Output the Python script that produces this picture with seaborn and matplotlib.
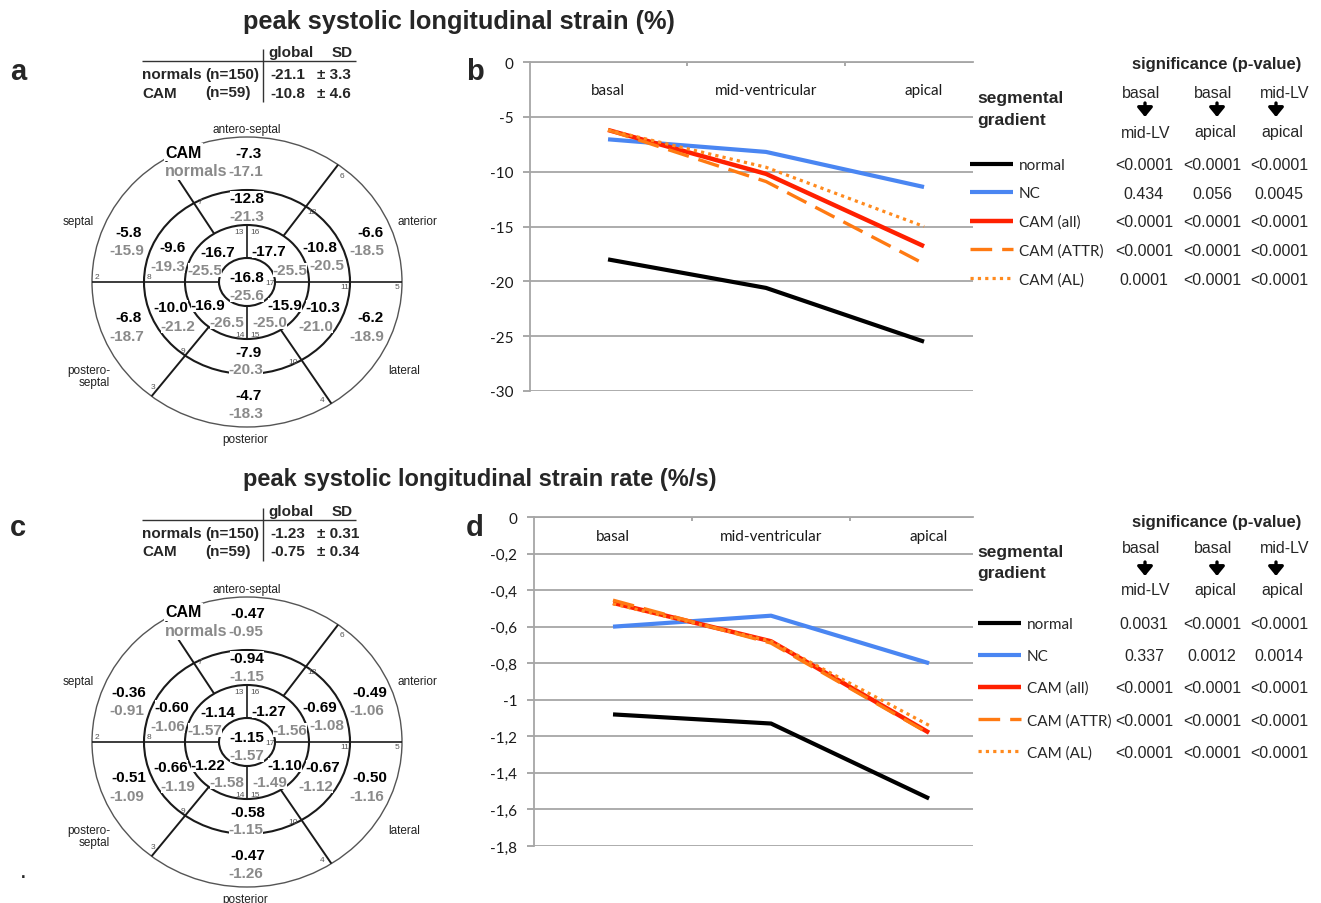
import numpy as np
import pandas as pd
import matplotlib
matplotlib.use("Agg")
import matplotlib.pyplot as plt
from matplotlib.patches import Ellipse
import seaborn as sns

# ---------------- data ----------------
levels = ["basal", "mid-ventricular", "apical"]
groups = ["normal", "NC", "CAM (all)", "CAM (ATTR)", "CAM (AL)"]

strain_normal = [-18.0, -20.6, -25.5]
strain_nc = [-7.05, -8.2, -11.4]
strain_cam_all = [-6.2, -10.2, -16.8]
strain_cam_attr = [-6.2, -10.9, -18.4]
strain_cam_al = [-6.2, -9.6, -15.0]

rate_normal = [-1.08, -1.13, -1.54]
rate_nc = [-0.60, -0.54, -0.80]
rate_cam_all = [-0.47, -0.68, -1.18]
rate_cam_attr = [-0.455, -0.69, -1.185]
rate_cam_al = [-0.475, -0.68, -1.14]

strain_yticks = [0, -5, -10, -15, -20, -25, -30]
strain_yticklabels = ["0", "-5", "-10", "-15", "-20", "-25", "-30"]
rate_yticks = [0, -0.2, -0.4, -0.6, -0.8, -1.0, -1.2, -1.4, -1.6, -1.8]
rate_yticklabels = ["0", "-0,2", "-0,4", "-0,6", "-0,8", "-1", "-1,2", "-1,4", "-1,6", "-1,8"]

# 17-segment bullseye values (AHA order 1..17)
seg_numbers = list(range(1, 18))
strain_cam_seg = [-7.3, -5.8, -6.8, -4.7, -6.2, -6.6, -12.8, -9.6, -10.0, -7.9, -10.3, -10.8,
                  -16.7, -16.9, -15.9, -17.7, -16.8]
strain_norm_seg = [-17.1, -15.9, -18.7, -18.3, -18.9, -18.5, -21.3, -19.3, -21.2, -20.3, -21.0, -20.5,
                   -25.5, -26.5, -25.0, -25.5, -25.6]
rate_cam_seg = [-0.47, -0.36, -0.51, -0.47, -0.50, -0.49, -0.94, -0.60, -0.66, -0.58, -0.67, -0.69,
                -1.14, -1.22, -1.10, -1.27, -1.15]
rate_norm_seg = [-0.95, -0.91, -1.09, -1.26, -1.16, -1.06, -1.15, -1.06, -1.19, -1.15, -1.12, -1.08,
                 -1.57, -1.58, -1.49, -1.56, -1.57]

region_names = ["antero-septal", "septal", "anterior", "postero-\nseptal", "lateral", "posterior"]

table_groups = ["normals", "CAM"]
table_n = ["(n=150)", "(n=59)"]
strain_global_mean = ["-21.1", "-10.8"]
strain_global_sd = ["± 3.3", "± 4.6"]
rate_global_mean = ["-1.23", "-0.75"]
rate_global_sd = ["± 0.31", "± 0.34"]

pv_head_top = ["basal", "basal", "mid-LV"]
pv_head_bottom = ["mid-LV", "apical", "apical"]
strain_pvals = [["<0.0001", "<0.0001", "<0.0001"],
                ["0.434", "0.056", "0.0045"],
                ["<0.0001", "<0.0001", "<0.0001"],
                ["<0.0001", "<0.0001", "<0.0001"],
                ["0.0001", "<0.0001", "<0.0001"]]
rate_pvals = [["0.0031", "<0.0001", "<0.0001"],
              ["0.337", "0.0012", "0.0014"],
              ["<0.0001", "<0.0001", "<0.0001"],
              ["<0.0001", "<0.0001", "<0.0001"],
              ["<0.0001", "<0.0001", "<0.0001"]]

title_strain = "peak systolic longitudinal strain (%)"
title_rate = "peak systolic longitudinal strain rate (%/s)"

# ---------------- style ----------------
sns.set_theme(style="white")
plt.rcParams["font.family"] = ["Liberation Sans", "DejaVu Sans"]
plt.rcParams["lines.solid_capstyle"] = "butt"
plt.rcParams["lines.dash_capstyle"] = "butt"

palette = {"normal": "#000000", "NC": "#4a86f2", "CAM (all)": "#ff2000",
           "CAM (ATTR)": "#ff7a12", "CAM (AL)": "#ff8a1e"}
dashes = {"normal": "", "NC": "", "CAM (all)": "", "CAM (ATTR)": (6.5, 3.0), "CAM (AL)": (1.0, 1.3)}
sizes = {"normal": 3.0, "NC": 3.0, "CAM (all)": 3.2, "CAM (ATTR)": 2.4, "CAM (AL)": 2.3}

W, H = 1321, 904
fig = plt.figure(figsize=(W / 100, H / 100), dpi=100)
fig.patch.set_facecolor("white")

ov = fig.add_axes([0, 0, 1, 1], zorder=0)
ov.set_xlim(0, W)
ov.set_ylim(H, 0)
ov.axis("off")

CALIBRI = ["Lato", "DejaVu Sans"]
GRAY = "#8a8a8a"


def px_axes(x0, y0, x1, y1):
    return fig.add_axes([x0 / W, 1 - y1 / H, (x1 - x0) / W, (y1 - y0) / H], zorder=2)


def T(x, y, s, **kw):
    kw.setdefault("va", "center")
    kw.setdefault("ha", "center")
    return ov.text(x, y, s, **kw)


# ---------------- titles & panel letters ----------------
T(243, 22, title_strain, ha="left", fontsize=18.3, fontweight="bold")
T(243, 480, title_rate, ha="left", fontsize=17.0, fontweight="bold")
for letter, (x, y) in zip("abcd", [(18, 72), (475, 72), (18, 528), (475, 528)]):
    T(x, y, letter, fontsize=21, fontweight="bold")
T(23, 874, ".", fontsize=12, fontweight="bold")

# ---------------- global tables ----------------
def draw_table(oy, means, sds):
    T(268, 53 + oy, "global", ha="left", fontsize=11, fontweight="bold")
    T(332, 53 + oy, "SD", ha="left", fontsize=11, fontweight="bold")
    ov.hlines(62 + oy, 142, 356, color="#333333", lw=1.0)
    ov.vlines(263, 50 + oy, 103 + oy, color="#333333", lw=1.0)
    for i, (g, n, m, s) in enumerate(zip(table_groups, table_n, means, sds)):
        y = 75 + oy + i * 18.5
        T(142, y, g, ha="left", fontsize=11, fontweight="bold")
        T(205, y, n, ha="left", fontsize=11, fontweight="bold")
        T(270, y, m, ha="left", fontsize=11, fontweight="bold")
        T(317, y, s, ha="left", fontsize=11, fontweight="bold")


draw_table(0, strain_global_mean, strain_global_sd)
draw_table(459, rate_global_mean, rate_global_sd)

# ---------------- bullseyes ----------------
rings = [(155, 145), (103, 92), (62, 57), (28, 24)]
diag_angles = [54, 122, 232, 303]
cam_off = [(1, -129), (-118, -50), (-118, 35), (1, 113), (123, 35), (123, -50),
           (0, -84), (-75, -35), (-76, 25), (1, 70), (76, 25), (73, -35),
           (-29, -30), (-39, 23), (38, 23), (22, -31), (0, -5)]
norm_off = [(-1, -111), (-120, -32), (-120, 54), (-1, 131), (120, 54), (120, -32),
            (0, -66), (-79, -16), (-69, 44), (-1, 87), (69, 44), (80, -17),
            (-42, -12), (-20, 40), (23, 40), (43, -12), (0, 13)]
num_off = {2: (-150, -5), 3: (-94, 105), 4: (75, 118), 5: (150, 5), 6: (95, -107),
           7: (-47, -80), 8: (-98, -5), 9: (-64, 69), 10: (46, 80), 11: (98, 5), 12: (65, -70),
           13: (-8, -50), 14: (-7, 53), 15: (8, 53), 16: (8, -50), 17: (23, 1)}
region_off = [(0, -153, "center"), (-169, -61, "center"), (170, -61, "center"),
              (-137, 94, "right"), (157, 88, "center"), (-2, 157, "center")]


def ell_pt(cx, cy, r, ang):
    a = np.deg2rad(ang)
    return cx + r[0] * np.cos(a), cy - r[1] * np.sin(a)


def draw_bullseye(cx, cy, cam, norm, fmt):
    for k, r in enumerate(rings):
        lw = 1.0 if k == 0 else 1.5
        ec = "#555555" if k == 0 else "#1a1a1a"
        ov.add_patch(Ellipse((cx, cy), 2 * r[0], 2 * r[1], fill=False, lw=lw, ec=ec, zorder=1))
    lc = "#1a1a1a"
    ov.plot([cx - rings[0][0], cx - rings[3][0]], [cy, cy], color=lc, lw=1.2, zorder=1)
    ov.plot([cx + rings[3][0], cx + rings[0][0]], [cy, cy], color=lc, lw=1.2, zorder=1)
    ov.plot([cx, cx], [cy - rings[2][1], cy - rings[3][1]], color=lc, lw=1.2, zorder=1)
    ov.plot([cx, cx], [cy + rings[3][1], cy + rings[2][1]], color=lc, lw=1.2, zorder=1)
    for ang in diag_angles:
        x0, y0 = ell_pt(cx, cy, rings[2], ang)
        x1, y1 = ell_pt(cx, cy, rings[0], ang)
        ov.plot([x0, x1], [y0, y1], color=lc, lw=1.4, zorder=1)
    box = dict(facecolor="white", edgecolor="none", pad=0.0)
    for i in range(17):
        dx, dy = cam_off[i]
        T(cx + dx, cy + dy, fmt.format(cam[i]), fontsize=11, fontweight="bold",
          color="black", bbox=box, zorder=3)
        dx, dy = norm_off[i]
        T(cx + dx, cy + dy, fmt.format(norm[i]), fontsize=11, fontweight="bold",
          color=GRAY, bbox=box, zorder=3)
    for n in seg_numbers:
        if n in num_off:
            dx, dy = num_off[n]
            T(cx + dx, cy + dy, str(n), fontsize=6, color="#555555", zorder=3)
    for name, (dx, dy, ha) in zip(region_names, region_off):
        T(cx + dx, cy + dy, name, fontsize=8.5, color="#222222", ha=ha,
          linespacing=1.0)
    big = dict(facecolor="white", edgecolor="none", pad=1.0)
    T(cx - 82, cy - 130, "CAM", ha="left", fontsize=11.5, fontweight="bold", color="black",
      bbox=big, zorder=3)
    T(cx - 82, cy - 111, "normals", ha="left", fontsize=11.5, fontweight="bold", color=GRAY,
      bbox=big, zorder=3)


draw_bullseye(247, 283, strain_cam_seg, strain_norm_seg, "{:.1f}")
draw_bullseye(247, 743, rate_cam_seg, rate_norm_seg, "{:.2f}")


# ---------------- line charts ----------------
def make_df(series):
    rows = []
    for g, vals in zip(groups, series):
        for i, v in enumerate(vals):
            rows.append((g, i, v))
    return pd.DataFrame(rows, columns=["group", "pos", "value"])


def line_panel(box, series, yticks, yticklabels, ylim, xlim, label_pad,
               leg_xy, leg_spacing, head_y, sig_y, seg_y):
    ax = px_axes(*box)
    ax.set_facecolor("none")
    df = make_df(series)
    sns.lineplot(data=df, x="pos", y="value", hue="group", style="group", size="group",
                 hue_order=groups, style_order=groups, size_order=groups,
                 palette=palette, dashes=dashes, sizes=sizes, legend=False,
                 ax=ax, sort=False, zorder=3)
    ax.set_xlim(*xlim)
    ax.set_ylim(*ylim)
    ax.set_yticks(yticks, yticklabels)
    ax.set_xticks(range(len(levels)), levels)
    ax.set_xticks([0.5, 1.5], minor=True)
    ax.xaxis.set_ticks_position("top")
    ax.tick_params(axis="x", which="major", length=0, pad=label_pad, labelsize=11,
                   labelcolor="#1a1a1a", labelfontfamily=CALIBRI)
    ax.tick_params(axis="x", which="minor", direction="in", length=3, width=1.2,
                   color="#9a9a9a", top=True, bottom=False)
    ax.tick_params(axis="y", length=5, width=1.2, color="#9a9a9a", pad=7, labelsize=11,
                   labelcolor="#1a1a1a", labelfontfamily=CALIBRI, left=True)
    ax.set_axisbelow(True)
    ax.grid(axis="y", color="#a6a6a6", lw=1.3)
    ax.grid(axis="x", visible=False)
    for sp in ["right", "bottom"]:
        ax.spines[sp].set_visible(False)
    for sp in ["left", "top"]:
        ax.spines[sp].set_visible(True)
        ax.spines[sp].set_color("#a6a6a6")
        ax.spines[sp].set_linewidth(1.3)
    ax.set_xlabel("")
    ax.set_ylabel("")

    # legend
    handles = ax.get_lines()[:len(groups)]
    leg = ax.legend(handles, groups, loc="upper left", bbox_to_anchor=leg_xy,
                    bbox_transform=ov.transData, frameon=False, borderpad=0,
                    borderaxespad=0, handlelength=2.8, handletextpad=0.4,
                    labelspacing=leg_spacing, prop={"family": CALIBRI, "size": 11})
    leg.set_zorder(5)

    # segmental gradient heading
    T(977, seg_y[0], "segmental", ha="left", fontsize=12.5, fontweight="bold")
    T(977, seg_y[1], "gradient", ha="left", fontsize=12.5, fontweight="bold")

    # significance table header
    T(1217, sig_y, "significance (p-value)", fontsize=12, fontweight="bold")
    top_x = [1141, 1213, 1285]
    arr_x = [1145, 1217, 1276]
    bot_x = [1146, 1215, 1282]
    for j in range(3):
        T(top_x[j], head_y[0], pv_head_top[j], fontsize=11.5)
        ov.annotate("", xy=(arr_x[j], head_y[1] + 7), xytext=(arr_x[j], head_y[1] - 7),
                    arrowprops=dict(arrowstyle="-|>,head_width=0.45,head_length=0.55",
                                    lw=2.4, color="black", mutation_scale=10,
                                    shrinkA=0, shrinkB=0))
        T(bot_x[j], head_y[2], pv_head_bottom[j], fontsize=11.5)
    return ax, leg


ax_b, leg_b = line_panel((530, 63, 973, 392),
                         [strain_normal, strain_nc, strain_cam_all, strain_cam_attr, strain_cam_al],
                         strain_yticks, strain_yticklabels, (-30, 0), (-0.494, 2.31), -25.5,
                         (970, 159), 0.94, (93, 111, 133), 65, (99, 121))
ax_d, leg_d = line_panel((534, 518, 973, 847),
                         [rate_normal, rate_nc, rate_cam_all, rate_cam_attr, rate_cam_al],
                         rate_yticks, rate_yticklabels, (-1.8, 0), (-0.5, 2.278), -19,
                         (978, 618), 1.17, (549, 570, 591), 523, (553, 574))

# p-value cells aligned with legend rows
fig.canvas.draw()
inv = ov.transData.inverted()
pv_x = [1144, 1212, 1279]
for leg, pvals in [(leg_b, strain_pvals), (leg_d, rate_pvals)]:
    for txt, row in zip(leg.get_texts(), pvals):
        bb = txt.get_window_extent()
        _, yc = inv.transform(((bb.x0 + bb.x1) / 2, (bb.y0 + bb.y1) / 2))
        for j in range(3):
            T(pv_x[j], yc, row[j], fontsize=11.5)

fig.savefig("out.png", dpi=100, facecolor="white")
